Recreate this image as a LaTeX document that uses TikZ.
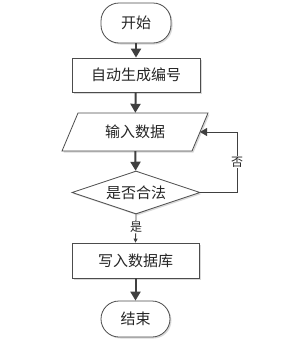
\documentclass[tikz,border=0pt]{standalone}
\usepackage{fontspec}
\setmainfont{Noto Sans CJK SC}
\usetikzlibrary{shapes.geometric,arrows.meta,shadows}
\begin{document}
\begin{tikzpicture}[x=1pt,y=-1pt,
  shade1/.style={drop shadow={shadow xshift=1.5pt, shadow yshift=-1.5pt, fill=black!15, opacity=1}},
  txt/.style={font=\fontsize{15}{17}\selectfont, text=black!85},
  base/.style={draw=black!70, line width=0.8pt, fill=white, txt, shade1, inner sep=0pt},
  term/.style={base, rounded corners=18pt},
  proc/.style={base, rectangle},
  dec/.style={base, diamond, aspect=3},
  flow/.style={draw=black!75, line width=2pt, -{Triangle[length=9pt,width=10pt]}},
  thin/.style={draw=black!75, line width=0.9pt, -{Triangle[length=7pt,width=8pt]}},
  small/.style={draw=black!75, line width=0.8pt, -{Triangle[length=4pt,width=4pt]}},
  lbl/.style={fill=white, inner sep=1pt, font=\fontsize{12}{14}\selectfont, text=black!85}
]
\useasboundingbox (0,0) rectangle (296,351);
\node[term, minimum width=70pt, minimum height=40pt] (start) at (136,23) {开始};
\node[proc, minimum width=128pt, minimum height=34pt] (auto) at (136,75) {自动生成编号};
\path[draw=black!70, line width=0.8pt, fill=white, shade1]
  (78,113) -- (208,113) -- (192,151) -- (62,151) -- cycle;
\node[txt, inner sep=0pt, minimum width=100pt, minimum height=38pt] (in) at (135,132) {输入数据};
\coordinate (ine) at (200,132);
\node[dec, minimum width=128pt, minimum height=43pt] (chk) at (136,192.5) {是否合法};
\node[proc, minimum width=127pt, minimum height=35pt] (write) at (135.5,260.5) {写入数据库};
\node[term, minimum width=69pt, minimum height=36pt] (end) at (135.5,319) {结束};
\coordinate (fb) at (237,192.5);
\draw[flow] (start) -- (auto);
\draw[flow] (auto) -- (in);
\draw[flow] (in) -- (chk);
\draw[small] (chk.south) -- (write.north);
\node[lbl] (yes) at (136,227) {是};
\draw[thin] (chk.east) -- (fb) |- (ine);
\node[lbl] (no) at (237,162) {否};
\draw[flow] (write) -- (end);
\end{tikzpicture}
\end{document}
